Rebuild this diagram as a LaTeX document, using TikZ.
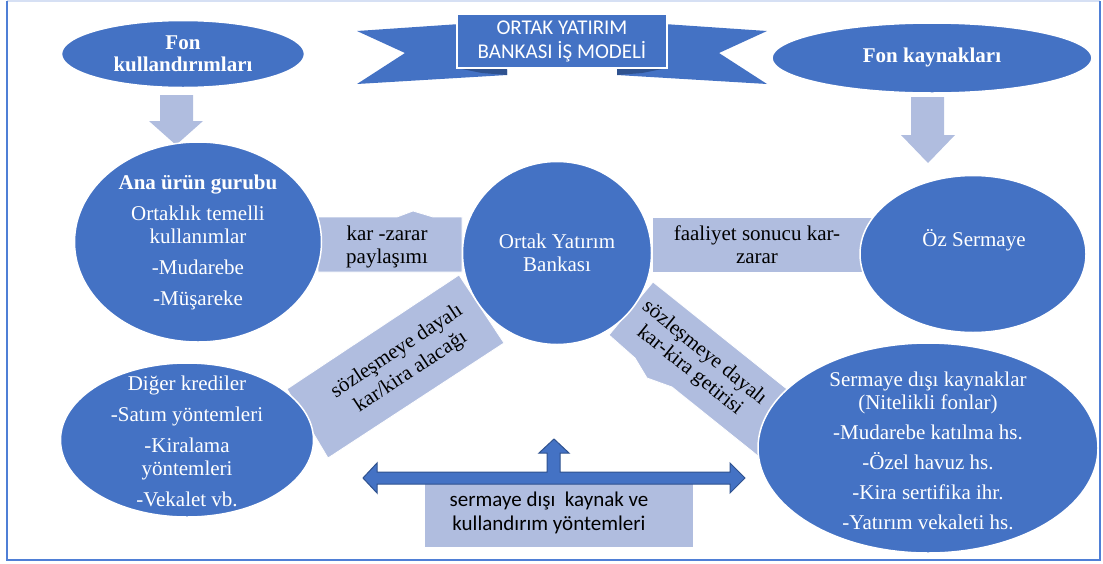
\documentclass[tikz,border=0pt]{standalone}
\usepackage{fontspec}
\setmainfont{Liberation Serif}
\newfontfamily\calfont{Carlito}
\usetikzlibrary{shapes.geometric}
\definecolor{mainblue}{HTML}{4472C4}
\definecolor{lightblue}{HTML}{B0BDDF}
\definecolor{darkblue}{HTML}{2F528F}
\definecolor{framecol}{HTML}{4F7FD6}
\definecolor{framelight}{HTML}{D6E0F4}
\begin{document}
\begin{tikzpicture}[x=1pt,y=-1pt,
  ell/.style={ellipse, fill=mainblue, draw=white, line width=1.5pt, inner sep=0pt},
  wtxt/.style={text=white, align=center, font=\fontsize{21}{23}\selectfont, inner sep=0pt},
  btxt/.style={text=black, align=center, font=\fontsize{21}{23}\selectfont, inner sep=0pt},
  stxt/.style={align=center, font=\calfont\fontsize{21}{24}\selectfont, inner sep=0pt},
  lightshape/.style={fill=lightblue, draw=white, line width=0.8pt},
  blockarrow/.style={fill=mainblue, draw=darkblue, line width=1pt, line join=miter}]
\useasboundingbox (0,0) rectangle (1103,563);
% frame
\draw[framelight, line width=1.5pt] (7,1) -- (1100,1);
\draw[framecol, line width=2.2pt] (7,1) -- (7,560) -- (1100,560) -- (1100,1);

% down arrows
\path[fill=lightblue] (160,95) -- (193,95) -- (193,121) -- (203,121) -- (176,145) -- (149,121) -- (160,121) -- cycle;
\path[fill=lightblue] (911,97) -- (944,97) -- (944,135) -- (955,135) -- (928,163) -- (901,135) -- (911,135) -- cycle;

% connector boxes
\path[lightshape] (318,217) -- (397,217) -- (413,211) -- (433,217) -- (462,217) -- (462,272) -- (318,272) -- cycle;
\path[lightshape] (652,217) -- (880,217) -- (880,272) -- (652,272) -- cycle;
\path[lightshape] (459,275) -- (504,343) -- (328,458) -- (287,389) -- cycle;
\path[lightshape] (609,335) -- (653,282) -- (817,413) -- (773,468) -- (672,387) -- (647,378) -- (635,358) -- cycle;
\path[fill=lightblue] (425,480) rectangle (693,547);

% three-way arrow
\path[blockarrow] (363,478) -- (377,463) -- (377,472) -- (547,472) -- (547,453) -- (539,453) -- (554,439)
  -- (569,453) -- (560,453) -- (560,472) -- (730,472) -- (730,463) -- (745,478) -- (730,493)
  -- (730,484) -- (377,484) -- (377,493) -- cycle;

% ellipses
\node[ell, minimum width=243, minimum height=67] (fonk) at (183,54) {};
\node[ell, minimum width=320, minimum height=70] (fonkay) at (932,58) {};
\node[ell, minimum width=247, minimum height=200] (ana) at (198,242) {};
\node[ell, minimum width=189, minimum height=183] (oyb) at (557,253) {};
\node[ell, minimum width=226, minimum height=157] (oz) at (973,254) {};
\node[ell, minimum width=253, minimum height=154] (diger) at (187,440) {};
\node[ell, minimum width=340, minimum height=210] (sdk) at (928,448) {};

% banner
\path[fill=mainblue] (357,31) -- (460,24) -- (507,70) -- (507,75) -- (357,84) -- (405,53) -- cycle;
\path[fill=mainblue] (767,31) -- (664,24) -- (617,70) -- (617,75) -- (767,84) -- (719,53) -- cycle;
\path[fill=darkblue] (457,68) -- (507,68) -- (507,75) -- (482,73) -- cycle;
\path[fill=darkblue] (667,68) -- (617,68) -- (617,75) -- (642,73) -- cycle;
\node[fill=mainblue, draw=white, line width=1.5pt, minimum width=210, minimum height=54, inner sep=0pt] (banner) at (562,41) {};
\node[stxt, text=white] (banner-t) at (562,41) {ORTAK YATIRIM\\BANKASI İŞ MODELİ};

% texts
\node[wtxt, font=\bfseries\fontsize{21}{22}\selectfont] (fonk-t) at (183,54) {Fon\\kullandırımları};
\node[wtxt, font=\bfseries\fontsize{21}{22}\selectfont] (fonkay-t) at (932,57) {Fon kaynakları};
\node[wtxt] (ana-t) at (198,242) {{\bfseries Ana ürün gurubu}\\[8pt]Ortaklık temelli\\kullanımlar\\[8pt]-Mudarebe\\[8pt]-Müşareke};
\node[wtxt] (oyb-t) at (557,253) {Ortak Yatırım\\Bankası};
\node[wtxt] (oz-t) at (974,240) {Öz Sermaye};
\node[wtxt] (diger-t) at (187,441) {Diğer krediler\\[8pt]-Satım yöntemleri\\[8pt]-Kiralama\\yöntemleri\\[8pt]-Vekalet vb.};
\node[wtxt] (sdk-t) at (928,451) {Sermaye dışı kaynaklar\\(Nitelikli fonlar)\\[7pt]-Mudarebe katılma hs.\\[7pt]-Özel havuz hs.\\[7pt]-Kira sertifika ihr.\\[7pt]-Yatırım vekaleti hs.};
\node[btxt] (kz-t) at (387,247) {kar -zarar\\paylaşımı};
\node[btxt] (fs-t) at (757,245) {faaliyet sonucu kar-\\zarar};
\node[btxt, rotate=33.5, font=\fontsize{21}{25}\selectfont] (sl-t) at (404,362) {sözleşmeye dayalı\\kar/kira alacağı};
\node[btxt, rotate=-39, font=\fontsize{21}{23}\selectfont] (sr-t) at (697,362) {sözleşmeye dayalı\\kar-kira getirisi};
\node[stxt, text=black] (alt-t) at (549,513) {sermaye dışı~ kaynak ve\\kullandırım yöntemleri};
\end{tikzpicture}
\end{document}
